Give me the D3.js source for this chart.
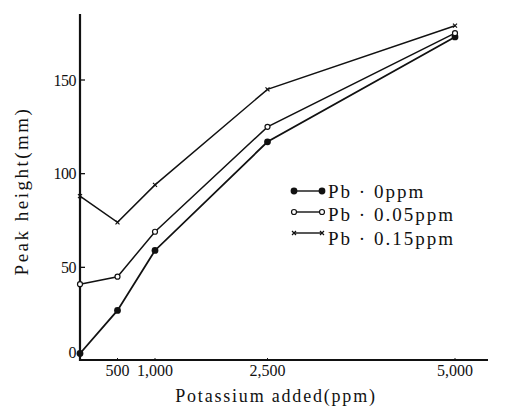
<!DOCTYPE html>
<html>
<head>
<meta charset="utf-8">
<script src="https://cdn.jsdelivr.net/npm/d3@7"></script>
<style>
  body { margin: 0; background: #fff; }
  text { font-family: "Liberation Serif", "DejaVu Serif", serif; fill: #111; }
</style>
</head>
<body>
<div id="chart"></div>
<script>
// potassium added (ppm)
const potassium = [0, 500, 1000, 2500, 5000];
const xTicks = [500, 1000, 2500, 5000];
const xTickLabels = ["500", "1,000", "2,500", "5,000"];
const yTicks = [0, 50, 100, 150];

// peak height (mm) per Pb level
const seriesNames = ["Pb · 0ppm", "Pb · 0.05ppm", "Pb · 0.15ppm"];
const pb0 = [4, 27, 59, 117, 173];
const pb005 = [41, 45, 69, 125, 175];
const pb015 = [88, 74, 94, 145, 179];

const width = 513, height = 411;

const svg = d3.select("#chart")
  .append("svg")
  .attr("width", width)
  .attr("height", height);

const x = d3.scaleLinear()
  .domain([0, 5000])
  .range([80, 455]);

const y = d3.scaleLinear()
  .domain([0, 150])
  .range([361, 80]);

// axes lines
svg.append("line")
  .attr("x1", x(0)).attr("x2", 488)
  .attr("y1", y(0) - 1).attr("y2", y(0) - 1)
  .attr("stroke", "#111").attr("stroke-width", 1.8);
svg.append("line")
  .attr("x1", x(0)).attr("x2", x(0))
  .attr("y1", y(0)).attr("y2", 14)
  .attr("stroke", "#111").attr("stroke-width", 2.2);

// y ticks (pointing inward)
const yAxis = svg.append("g");
yAxis.selectAll("line")
  .data(yTicks.filter(d => d > 0))
  .enter().append("line")
  .attr("x1", x(0)).attr("x2", x(0) + 5)
  .attr("y1", d => y(d)).attr("y2", d => y(d))
  .attr("stroke", "#111").attr("stroke-width", 1.3);
yAxis.selectAll("text")
  .data(yTicks)
  .enter().append("text")
  .attr("x", x(0) - 4)
  .attr("y", d => d === 0 ? y(d) - 9 : y(d))
  .attr("dy", "0.35em")
  .attr("text-anchor", "end")
  .attr("font-size", 16)
  .attr("letter-spacing", -0.5)
  .text(d => d);

// x ticks
const xAxis = svg.append("g");
xAxis.selectAll("line")
  .data(xTicks)
  .enter().append("line")
  .attr("x1", d => x(d)).attr("x2", d => x(d))
  .attr("y1", y(0)).attr("y2", y(0) - 3)
  .attr("stroke", "#111").attr("stroke-width", 1);
xAxis.selectAll("text")
  .data(xTicks)
  .enter().append("text")
  .attr("x", d => x(d))
  .attr("y", y(0) + 15)
  .attr("text-anchor", "middle")
  .attr("font-size", 16)
  .text((d, i) => xTickLabels[i]);

// axis titles
svg.append("text")
  .attr("x", 276).attr("y", 402)
  .attr("text-anchor", "middle")
  .attr("font-size", 18)
  .attr("letter-spacing", 1.8)
  .text("Potassium added(ppm)");
svg.append("text")
  .attr("transform", "translate(28,191) rotate(-90)")
  .attr("text-anchor", "middle")
  .attr("font-size", 19)
  .attr("letter-spacing", 2.5)
  .text("Peak height(mm)");

const line = d3.line()
  .x((d, i) => x(potassium[i]))
  .y(d => y(d));

const series = [pb0, pb005, pb015];
const kinds = ["dot", "circle", "cross"];

function drawMarker(g, kind, cx, cy) {
  if (kind === "dot") {
    g.append("circle").attr("cx", cx).attr("cy", cy).attr("r", 3.4).attr("fill", "#111");
  } else if (kind === "circle") {
    g.append("circle").attr("cx", cx).attr("cy", cy).attr("r", 2.5)
      .attr("fill", "#fff").attr("stroke", "#111").attr("stroke-width", 1.2);
  } else {
    const s = 2;
    g.append("path")
      .attr("d", `M${cx - s},${cy - s}L${cx + s},${cy + s}M${cx - s},${cy + s}L${cx + s},${cy - s}`)
      .attr("stroke", "#111").attr("stroke-width", 1.2);
  }
}

series.forEach((vals, k) => {
  const g = svg.append("g");
  g.append("path")
    .attr("d", line(vals))
    .attr("fill", "none")
    .attr("stroke", "#111")
    .attr("stroke-width", k === 0 ? 1.8 : 1.5);
  vals.forEach((v, i) => drawMarker(g, kinds[k], x(potassium[i]), y(v)));
});

// legend
const legendLineY = [191, 212, 233];
const legendTextY = [191, 214, 238];
const legend = svg.append("g");
seriesNames.forEach((name, k) => {
  const ly = legendLineY[k];
  legend.append("line")
    .attr("x1", 294).attr("x2", 322)
    .attr("y1", ly).attr("y2", ly)
    .attr("stroke", "#111").attr("stroke-width", 1.4);
  drawMarker(legend, kinds[k], 294, ly);
  drawMarker(legend, kinds[k], 322, ly);
  legend.append("text")
    .attr("x", 328).attr("y", legendTextY[k])
    .attr("dy", "0.35em")
    .attr("font-size", 19)
    .attr("letter-spacing", 2)
    .text(name);
});
</script>
</body>
</html>
